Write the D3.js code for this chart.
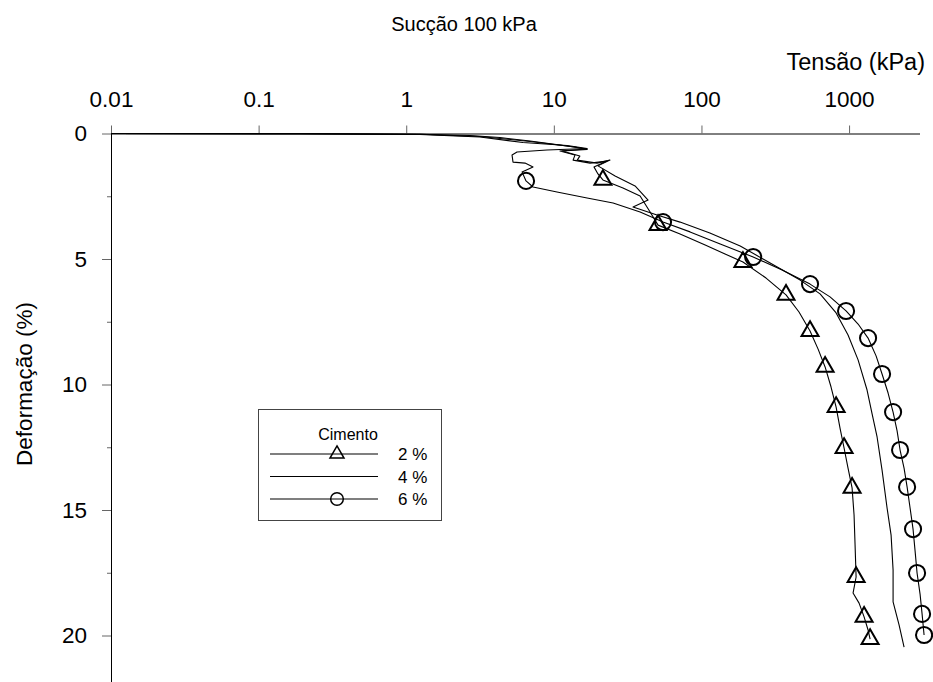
<!DOCTYPE html>
<html>
<head>
<meta charset="utf-8">
<script src="https://cdn.jsdelivr.net/npm/d3@7"></script>
<style>
  html, body { margin: 0; padding: 0; background: #fff; }
  svg { display: block; font-family: "Liberation Sans", Arial, sans-serif; }
</style>
</head>
<body>
<svg id="chart" width="933" height="682"></svg>
<script>
// Axis ticks
const stressTicks = [0.01, 0.1, 1, 10, 100, 1000];
const strainTicks = [0, 5, 10, 15, 20];
const strainMinorTicks = [2.5, 7.5, 12.5, 17.5];

// Curves: [tensão (kPa), deformação (%)]
const cimento2 = [
  [0.01, 0], [0.19, 0.01], [1.24, 0.03], [2.70, 0.08], [4.32, 0.16], [6.90, 0.30],
  [11.0, 0.46], [16.8, 0.62], [11.0, 0.70], [13.9, 0.86], [13.5, 1.06], [17.6, 1.18],
  [22.9, 1.10], [18.7, 1.33], [19.9, 1.61], [21.5, 1.85], [29.4, 2.17], [38.4, 2.49],
  [44.9, 3.13], [50.8, 3.65], [71.6, 4.00], [106, 4.44], [144.5, 4.80], [191, 5.12],
  [274, 5.76], [374, 6.43], [458, 7.11], [544, 7.87], [617, 8.59], [688, 9.30],
  [755, 10.10], [817, 10.90], [869, 11.75], [925, 12.53], [984, 13.33], [1048, 14.12],
  [1081, 15.20], [1098, 16.39], [1116, 17.67], [1064, 18.31], [1169, 18.71],
  [1264, 19.26], [1345, 19.78], [1388, 20.14]
];
const cimento4 = [
  [0.01, 0], [0.19, 0.005], [1.24, 0.03], [3.16, 0.12], [6.90, 0.32], [13.9, 0.54],
  [16.8, 0.64], [11.4, 0.70], [15.0, 0.90], [14.4, 1.06], [19.6, 1.18], [24.0, 1.06],
  [19.9, 1.29], [26.0, 1.69], [35.5, 2.09], [43.5, 2.65], [34.4, 2.93], [50.0, 3.25],
  [71.6, 3.53], [114, 3.96], [183, 4.48], [292, 5.16], [466, 5.84], [636, 6.39],
  [817, 7.15], [984, 8.03], [1151, 9.02], [1324, 10.22], [1431, 11.16], [1548, 12.09],
  [1673, 13.41], [1809, 14.92], [1926, 16.00], [1987, 17.39], [1987, 18.66],
  [2181, 19.58], [2358, 20.46]
];
const cimento6 = [
  [0.01, 0], [0.19, 0.01], [1.24, 0.04], [3.16, 0.14], [6.18, 0.36], [12.3, 0.48],
  [16.8, 0.60], [8.99, 0.66], [5.63, 0.74], [5.21, 0.86], [5.29, 1.14], [6.38, 1.18],
  [7.23, 1.33], [6.09, 1.53], [6.48, 1.89], [7.23, 2.13], [10.5, 2.33], [16.8, 2.57],
  [25.2, 2.77], [38.4, 3.13], [54.9, 3.53], [83.7, 3.92], [134, 4.40], [224, 4.92],
  [352, 5.44], [544, 6.00], [743, 6.51], [954, 7.07], [1151, 7.59], [1345, 8.15],
  [1524, 8.86], [1673, 9.58], [1838, 10.34], [1987, 11.10], [2115, 11.85], [2216, 12.61],
  [2358, 13.33], [2472, 14.08], [2590, 14.92], [2713, 15.76], [2800, 16.63],
  [2888, 17.51], [3027, 18.35], [3123, 19.14], [3222, 19.98]
];

// Marker positions along the curves
const marks2 = [
  [21.5, 1.85], [50.8, 3.65], [191, 5.12], [374, 6.43], [544, 7.87], [688, 9.30],
  [817, 10.90], [925, 12.53], [1048, 14.12], [1116, 17.67], [1264, 19.26], [1388, 20.14]
];
const marks6 = [
  [6.48, 1.89], [54.9, 3.53], [224, 4.92], [544, 6.00], [954, 7.07], [1345, 8.15],
  [1673, 9.58], [1987, 11.10], [2216, 12.61], [2472, 14.08], [2713, 15.76],
  [2888, 17.51], [3123, 19.14], [3222, 19.98]
];

// Legend entries
const legendLabels = ["2 %", "4 %", "6 %"];
const legendSymbols = ["triangle", "none", "circle"];

const svg = d3.select("#chart");
svg.append("rect").attr("width", 933).attr("height", 682).attr("fill", "#fff");

const x = d3.scaleLog().domain([0.01, 3000]).range([111, 919.5]);
const y = d3.scaleLinear().domain([0, 22]).range([133.5, 133.5 + 22 * 25.1]);

const tickColor = "#666";
const labelSize = 22.5;

// X axis (top)
const gx = svg.append("g")
  .attr("transform", `translate(0,${y(0)})`)
  .call(d3.axisTop(x)
    .tickValues(stressTicks)
    .tickFormat(d => d < 1 ? String(d) : d3.format("d")(d))
    .tickSize(8)
    .tickSizeOuter(0)
    .tickPadding(19));
gx.select(".domain").attr("stroke", "#000");
gx.selectAll(".tick line").attr("stroke", tickColor);
gx.selectAll(".tick text").attr("font-size", labelSize).attr("fill", "#000")
  .attr("font-family", "'Liberation Sans', Arial, sans-serif");

// Y axis (left), major and minor ticks
const gy = svg.append("g")
  .attr("transform", `translate(${x(0.01)},0)`)
  .call(d3.axisLeft(y)
    .tickValues(strainTicks)
    .tickSize(9)
    .tickSizeOuter(0)
    .tickPadding(15));
gy.select(".domain").attr("stroke", "#000");
gy.selectAll(".tick line").attr("stroke", tickColor);
gy.selectAll(".tick text").attr("font-size", labelSize).attr("fill", "#000")
  .attr("font-family", "'Liberation Sans', Arial, sans-serif");

const gyMinor = svg.append("g")
  .attr("transform", `translate(${x(0.01)},0)`)
  .call(d3.axisLeft(y).tickValues(strainMinorTicks).tickSize(4).tickFormat(""));
gyMinor.select(".domain").remove();
gyMinor.selectAll(".tick line").attr("stroke", tickColor);

// Titles
svg.append("text").attr("x", 464).attr("y", 31).attr("text-anchor", "middle")
  .attr("font-size", 20).text("Sucção 100 kPa");
svg.append("text").attr("x", 925).attr("y", 70).attr("text-anchor", "end")
  .attr("font-size", 23.5).text("Tensão (kPa)");
svg.append("text")
  .attr("transform", `translate(32,384) rotate(-90)`)
  .attr("text-anchor", "middle").attr("font-size", labelSize).text("Deformação (%)");

// Curves
const line = d3.line().x(d => x(d[0])).y(d => y(d[1]));
[cimento2, cimento4, cimento6].forEach(s => {
  svg.append("path").datum(s).attr("d", line)
    .attr("fill", "none").attr("stroke", "#000").attr("stroke-width", 1.1)
    .attr("stroke-linejoin", "round");
});

// Markers
const triSym = d3.symbol().type(d3.symbolTriangle).size(125);
const cirSym = d3.symbol().type(d3.symbolCircle).size(205);
svg.append("g").selectAll("path").data(marks2).join("path")
  .attr("d", triSym)
  .attr("transform", d => `translate(${x(d[0])},${y(d[1])})`)
  .attr("fill", "none").attr("stroke", "#000").attr("stroke-width", 2);
svg.append("g").selectAll("path").data(marks6).join("path")
  .attr("d", cirSym)
  .attr("transform", d => `translate(${x(d[0])},${y(d[1])})`)
  .attr("fill", "none").attr("stroke", "#000").attr("stroke-width", 2);

// Legend
const legTri = d3.symbol().type(d3.symbolTriangle).size(85);
const legCir = d3.symbol().type(d3.symbolCircle).size(125);
const lg = svg.append("g");
lg.append("rect").attr("x", 258.5).attr("y", 409.5).attr("width", 183).attr("height", 111)
  .attr("fill", "#fff").attr("stroke", "#444").attr("stroke-width", 1);
lg.append("text").attr("x", 348).attr("y", 440).attr("text-anchor", "middle")
  .attr("font-size", 16).text("Cimento");
legendLabels.forEach((lab, i) => {
  const ly = 454 + i * 22.5;
  lg.append("line").attr("x1", 270).attr("x2", 378).attr("y1", ly).attr("y2", ly)
    .attr("stroke", "#000").attr("stroke-width", 1.1);
  if (legendSymbols[i] !== "none") {
    lg.append("path")
      .attr("d", legendSymbols[i] === "triangle" ? legTri : legCir)
      .attr("transform", `translate(337,${ly})`)
      .attr("fill", "none").attr("stroke", "#000").attr("stroke-width", 1.5);
  }
  lg.append("text").attr("x", 398).attr("y", ly + 6).attr("font-size", 17).text(lab);
});
</script>
</body>
</html>
